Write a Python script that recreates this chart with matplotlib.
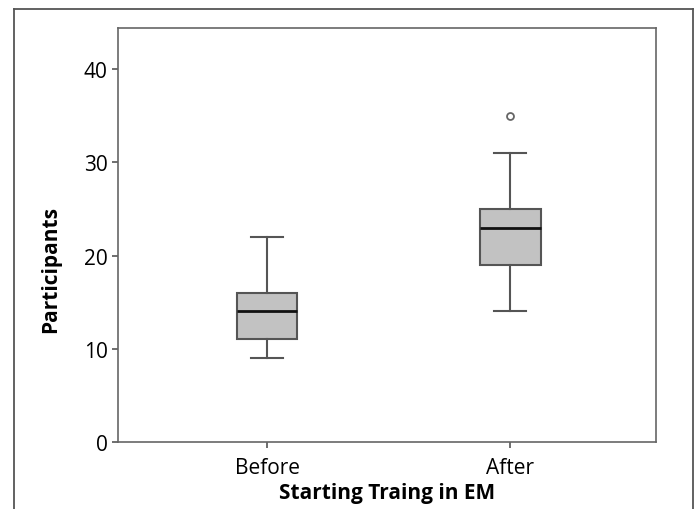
import matplotlib
matplotlib.use("Agg")
import matplotlib.pyplot as plt
from matplotlib.lines import Line2D

plt.rcParams['font.family'] = ['Open Sans', 'DejaVu Sans']

categories = ["Before", "After"]
whisker_low = [9, 14]
q1 = [11, 19]
median = [14, 23]
q3 = [16, 25]
whisker_high = [22, 31]
outliers = [[], [35]]
yticks = [0, 10, 20, 30, 40]

W, H = 696, 510
fig = plt.figure(figsize=(W/100, H/100), dpi=100)
ax = fig.add_axes([118/W, 1-443/H, (656-118)/W, (443-29)/H])

stats = []
for i, c in enumerate(categories):
    stats.append(dict(label=c, whislo=whisker_low[i], q1=q1[i], med=median[i],
                      q3=q3[i], whishi=whisker_high[i], fliers=outliers[i]))

edge = '#555555'
ax.bxp(stats, positions=[1, 2], widths=0.25, patch_artist=True,
       boxprops=dict(facecolor='#c2c2c2', edgecolor=edge, linewidth=1.5),
       medianprops=dict(color='#111111', linewidth=2),
       whiskerprops=dict(color=edge, linewidth=1.5),
       capprops=dict(color=edge, linewidth=1.5),
       capwidths=0.13,
       flierprops=dict(marker='o', markersize=5, markerfacecolor='white',
                       markeredgecolor='#666666', markeredgewidth=1.3))

ax.set_xlim(0.387, 2.60)
ax.set_ylim(0, 44.4)
ax.set_yticks(yticks)
ax.set_yticklabels([str(t) for t in yticks])
ax.set_xticks([1, 2])
ax.set_xticklabels(categories)
ax.tick_params(axis='both', labelsize=15, color=edge, length=4.5, width=1.2,
               labelcolor='black', pad=3)
ax.tick_params(axis='x', pad=6)
for s in ax.spines.values():
    s.set_color('#666666')
    s.set_linewidth(1.2)

ax.set_ylabel('Participants', fontsize=15, fontweight='bold', labelpad=16)
ax.yaxis.set_label_coords(-0.105, 0.418)
ax.set_xlabel('Starting Traing in EM', fontsize=15, fontweight='bold', labelpad=3)

# outer frame
fc = '#555555'
fig.add_artist(Line2D([14/W, 14/W], [0, 1-10/H], transform=fig.transFigure, color=fc, lw=1.3))
fig.add_artist(Line2D([14/W, 693/W], [1-10/H, 1-10/H], transform=fig.transFigure, color=fc, lw=1.3))
fig.add_artist(Line2D([693/W, 693/W], [0, 1-10/H], transform=fig.transFigure, color=fc, lw=1.3))

fig.savefig('out.png', dpi=100)
